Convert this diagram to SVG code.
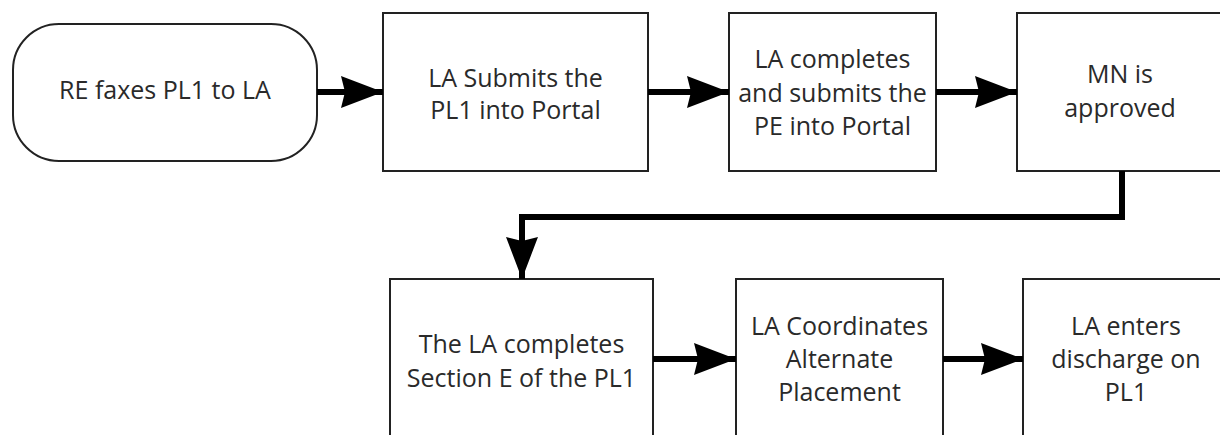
<svg xmlns="http://www.w3.org/2000/svg" width="1220" height="435" viewBox="0 0 1220 435">
  <defs>
    <marker id="ah" markerUnits="userSpaceOnUse" markerWidth="42" markerHeight="32" refX="42" refY="16" orient="auto" viewBox="0 0 42 32">
      <path d="M0,0 L42,16 L0,32 L4,16 z" fill="#000"/>
    </marker>
    <style>
      .box { fill: #fff; stroke: #222; stroke-width: 2; }
      .lbl { font-family: "Open Sans", "Liberation Sans", sans-serif; font-size: 25px; fill: #2a2a2a; text-anchor: middle; }
      .conn { fill: none; stroke: #000; stroke-width: 6; stroke-linejoin: miter; }
    </style>
  </defs>
  <rect x="0" y="0" width="1220" height="435" fill="#fff"/>

  <g id="n1">
    <rect class="box" x="13" y="24" width="304" height="137" rx="46" ry="46"/>
    <text class="lbl" x="165" y="99">RE faxes PL1 to LA</text>
  </g>
  <g id="n2">
    <rect class="box" x="383" y="13" width="265" height="158"/>
    <text class="lbl" x="515.5" y="87">LA Submits the</text>
    <text class="lbl" x="515.5" y="119">PL1 into Portal</text>
  </g>
  <g id="n3">
    <rect class="box" x="729" y="13" width="207" height="158"/>
    <text class="lbl" x="832.5" y="68">LA completes</text>
    <text class="lbl" x="832.5" y="102">and submits the</text>
    <text class="lbl" x="832.5" y="135">PE into Portal</text>
  </g>
  <g id="n4">
    <rect class="box" x="1017" y="13" width="208" height="158"/>
    <text class="lbl" x="1120" y="83">MN is</text>
    <text class="lbl" x="1120" y="117">approved</text>
  </g>
  <g id="n5">
    <rect class="box" x="390" y="279" width="263" height="160"/>
    <text class="lbl" x="521.5" y="353">The LA completes</text>
    <text class="lbl" x="521.5" y="387">Section E of the PL1</text>
  </g>
  <g id="n6">
    <rect class="box" x="736" y="279" width="207" height="160"/>
    <text class="lbl" x="839.5" y="335">LA Coordinates</text>
    <text class="lbl" x="839.5" y="368">Alternate</text>
    <text class="lbl" x="839.5" y="401">Placement</text>
  </g>
  <g id="n7">
    <rect class="box" x="1023" y="279" width="208" height="160"/>
    <text class="lbl" x="1126" y="335">LA enters</text>
    <text class="lbl" x="1126" y="368">discharge on</text>
    <text class="lbl" x="1126" y="401">PL1</text>
  </g>

  <g id="connectors">
    <path class="conn" d="M317,92 L383,92" marker-end="url(#ah)"/>
    <path class="conn" d="M648,92 L729,92" marker-end="url(#ah)"/>
    <path class="conn" d="M936,92 L1017,92" marker-end="url(#ah)"/>
    <path class="conn" d="M1122,171 L1122,217 L522,217 L522,279" marker-end="url(#ah)"/>
    <path class="conn" d="M653,359 L736,359" marker-end="url(#ah)"/>
    <path class="conn" d="M943,359 L1023,359" marker-end="url(#ah)"/>
  </g>
</svg>
